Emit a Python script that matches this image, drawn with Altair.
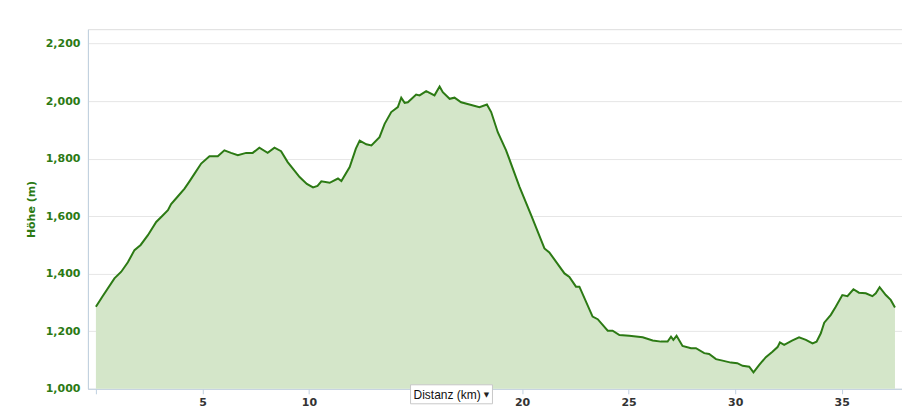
import altair as alt
import pandas as pd

km = [0, 0.3, 0.87, 1.19, 1.5, 1.81, 2.1, 2.44, 2.83, 3.1, 3.38, 3.53, 3.8, 4.16, 4.4, 4.63, 4.94,
      5.33, 5.72, 6.03, 6.34, 6.66, 7.05, 7.36, 7.67, 8.06, 8.38, 8.69, 9.0, 9.3, 9.56, 9.9,
      10.19, 10.4, 10.58, 10.97, 11.36, 11.52, 11.91, 12.2, 12.38, 12.69, 12.93, 13.31, 13.55,
      13.86, 14.17, 14.33, 14.49, 14.64, 15.03, 15.19, 15.5, 15.89, 16.13, 16.28, 16.6, 16.83,
      17.14, 17.53, 18.0, 18.35, 18.55, 18.86, 19.25, 19.88, 20.43, 21.05, 21.28, 21.99, 22.22,
      22.53, 22.69, 23.31, 23.55, 24.02, 24.25, 24.57, 25.03, 25.66, 26.13, 26.52, 26.83, 26.99,
      27.1, 27.25, 27.53, 27.93, 28.16, 28.55, 28.78, 29.1, 29.41, 29.8, 30.1, 30.35, 30.66,
      30.86, 31.13, 31.44, 31.75, 31.99, 32.1, 32.3, 32.69, 33.0, 33.32, 33.63, 33.82, 34.02,
      34.18, 34.49, 34.72, 35.03, 35.27, 35.55, 35.81, 36.13, 36.44, 36.6, 36.78, 37.07, 37.3, 37.5]

hoehe = [1285, 1320, 1384, 1407, 1440, 1482, 1500, 1534, 1580, 1600, 1621, 1642, 1665, 1696, 1722,
         1748, 1783, 1808, 1808, 1829, 1820, 1812, 1820, 1820, 1838, 1820, 1838, 1826, 1788, 1760,
         1736, 1712, 1700, 1705, 1721, 1716, 1731, 1722, 1771, 1835, 1863, 1850, 1846, 1875, 1921,
         1962, 1979, 2012, 1994, 1996, 2023, 2020, 2035, 2020, 2051, 2031, 2008, 2012, 1996, 1988,
         1979, 1988, 1962, 1892, 1829, 1702, 1603, 1488, 1474, 1401, 1389, 1355, 1355, 1251, 1242,
         1202, 1202, 1187, 1184, 1179, 1168, 1164, 1164, 1181, 1170, 1184, 1149, 1141, 1141, 1124,
         1121, 1103, 1098, 1091, 1089, 1080, 1077, 1057, 1083, 1110, 1129, 1145, 1161, 1153, 1168,
         1179, 1170, 1158, 1164, 1193, 1230, 1257, 1285, 1326, 1322, 1346, 1334, 1332, 1322, 1332,
         1353, 1326, 1309, 1283]

x_ticks = [0, 5, 10, 15, 20, 25, 30, 35]
y_ticks = [1000, 1200, 1400, 1600, 1800, 2000, 2200]
dropdown_label = "Distanz (km)"

df = pd.DataFrame({"km": km, "hoehe": hoehe})

GREEN = "#2c7a14"
FILL = "#d4e6c9"
FONT = "DejaVu Sans"

xscale = alt.Scale(domain=[-0.375, 37.83], nice=False, zero=False)
yscale = alt.Scale(domain=[1000, 2250], nice=False, zero=False)

base = alt.Chart(df)

area = base.mark_area(color=FILL, opacity=1).encode(
    x=alt.X("km:Q", scale=xscale,
            axis=alt.Axis(values=x_ticks, title=None, grid=False, format="d",
                          labelExpr="(datum.value == 0 || datum.value == 15) ? '' : datum.label",
                          labelFont=FONT, labelFontWeight="bold", labelFontSize=11,
                          labelColor="#333333", domainColor="#c0d0e0", tickColor="#c0d0e0",
                          tickSize=5, labelPadding=3)),
    y=alt.Y("hoehe:Q", scale=yscale,
            axis=alt.Axis(values=y_ticks, title="Höhe (m)", format=",.0f",
                          grid=True, gridColor="#e6e6e6", gridWidth=1,
                          labelFont=FONT, labelFontWeight="bold", labelFontSize=11,
                          labelColor=GREEN, titleColor=GREEN, titleFont=FONT,
                          titleFontWeight="bold", titleFontSize=11, titlePadding=9,
                          domainColor="#c0d0e0", ticks=False, labelPadding=8)),
    y2=alt.datum(1000),
)

line = base.mark_line(color=GREEN, strokeWidth=2).encode(
    x=alt.X("km:Q", scale=xscale),
    y=alt.Y("hoehe:Q", scale=yscale),
)

box = alt.Chart(pd.DataFrame({"t": [dropdown_label]})).mark_rect(
    fill="white", stroke="#c8c8c8", strokeWidth=1
).encode(x=alt.value(323), x2=alt.value(405), y=alt.value(356), y2=alt.value(375))

box_text = alt.Chart(pd.DataFrame({"t": [dropdown_label]})).mark_text(
    font="Liberation Sans", fontSize=12, color="#111111", align="left", baseline="middle"
).encode(x=alt.value(326), y=alt.value(366), text="t:N")

arrow = alt.Chart(pd.DataFrame({"t": ["▼"]})).mark_text(
    font=FONT, fontSize=7, color="#222222", align="center", baseline="middle"
).encode(x=alt.value(399), y=alt.value(366), text="t:N")

chart = alt.layer(area, line, box, box_text, arrow).properties(
    width=815, height=360,
    padding={"left": 80, "top": 21, "right": 0, "bottom": 20},
    autosize=alt.AutoSizeParams(type="none"),
).configure_view(stroke=None).configure(background="white")

chart.save("out.html", embed_options={"renderer": "svg", "actions": False})
